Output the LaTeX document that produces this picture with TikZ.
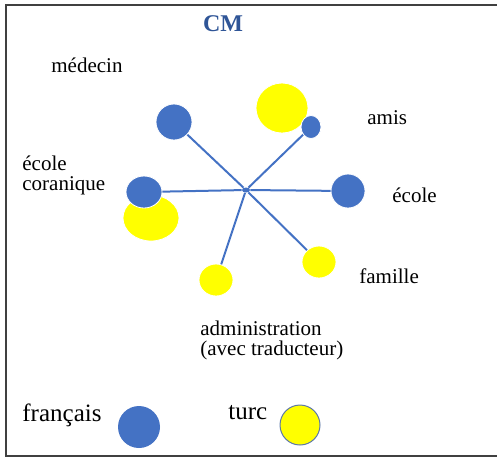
\documentclass[tikz,border=0pt]{standalone}
\usepackage{fontspec}
\setmainfont{Liberation Serif}
\usetikzlibrary{shapes.geometric}
\definecolor{bleuFR}{HTML}{4472C4}
\definecolor{jauneTR}{HTML}{FFFF00}
\definecolor{titreCM}{HTML}{2F5597}
\begin{document}
\begin{tikzpicture}[x=0.5pt,y=-0.5pt,
    bleu/.style={ellipse, fill=bleuFR, draw=white, line width=0.4pt, inner sep=0pt},
    jaune/.style={ellipse, fill=jauneTR, draw=white, line width=0.4pt, inner sep=0pt},
    lien/.style={draw=bleuFR, line width=1pt},
    etiq/.style={anchor=base west, inner sep=0pt, align=left, font=\rmfamily\fontsize{10.5pt}{10pt}\selectfont}]
    \useasboundingbox (0,0) rectangle (497,457);

    % Cadre (sans bord droit)
    \draw[black!75, line width=1pt] (510,4.5) -- (5.5,4.5) -- (5.5,455.5) -- (510,455.5);

    % Titre
    \node[font=\rmfamily\fontsize{12pt}{12pt}\selectfont\bfseries, text=titreCM] (titre) at (223,24) {CM};

    % Cercles turcs (derriere)
    \node[jaune, minimum width=26pt, minimum height=25pt] (amisT) at (282,108) {};
    \node[jaune, minimum width=28pt, minimum height=23pt] (coraT) at (151,218) {};
    \node[jaune, minimum width=17pt, minimum height=16pt] (famT) at (319,262) {};
    \node[jaune, minimum width=17pt, minimum height=16pt] (admT) at (216,280) {};

    % Cercles francais
    \node[bleu, minimum width=18pt, minimum height=18pt] (medF) at (174,122) {};
    \node[bleu, minimum width=10pt, minimum height=11.5pt] (amisF) at (311,127) {};
    \node[bleu, minimum width=18pt, minimum height=16pt] (coraF) at (144,192) {};
    \node[bleu, minimum width=17pt, minimum height=17pt] (ecoleF) at (348,191) {};

    % Centre et rayons
    \node[ellipse, fill=bleuFR, inner sep=0pt, minimum width=4pt, minimum height=2.5pt] (hub) at (246,190) {};
    \draw[lien] (hub) -- (medF);
    \draw[lien] (hub) -- (amisF);
    \draw[lien] (hub) -- (coraF);
    \draw[lien] (hub) -- (ecoleF);
    \draw[lien] (hub) -- (famT);
    \draw[lien] (hub) -- (admT);

    % Etiquettes
    \node[etiq] (lmed) at (51,72) {médecin};
    \node[etiq] (lamis) at (367,124) {amis};
    \node[etiq] (lcora) at (22,190) {école\\coranique};
    \node[etiq] (lecole) at (392,202) {école};
    \node[etiq] (lfam) at (359,283) {famille};
    \node[etiq] (ladm) at (200,355) {administration\\(avec traducteur)};

    % Legende
    \node[anchor=base west, inner sep=0pt, font=\rmfamily\fontsize{12.5pt}{12.5pt}\selectfont] (lfr) at (22,421) {français};
    \node[circle, fill=bleuFR, inner sep=0pt, minimum size=21pt] (cfr) at (139,427) {};
    \node[anchor=base west, inner sep=0pt, font=\rmfamily\fontsize{12.5pt}{12.5pt}\selectfont] (ltr) at (228,419) {turc};
    \node[circle, fill=jauneTR, draw=bleuFR!60!gray, line width=0.5pt, inner sep=0pt, minimum size=20pt] (ctr) at (300,425) {};
\end{tikzpicture}
\end{document}
